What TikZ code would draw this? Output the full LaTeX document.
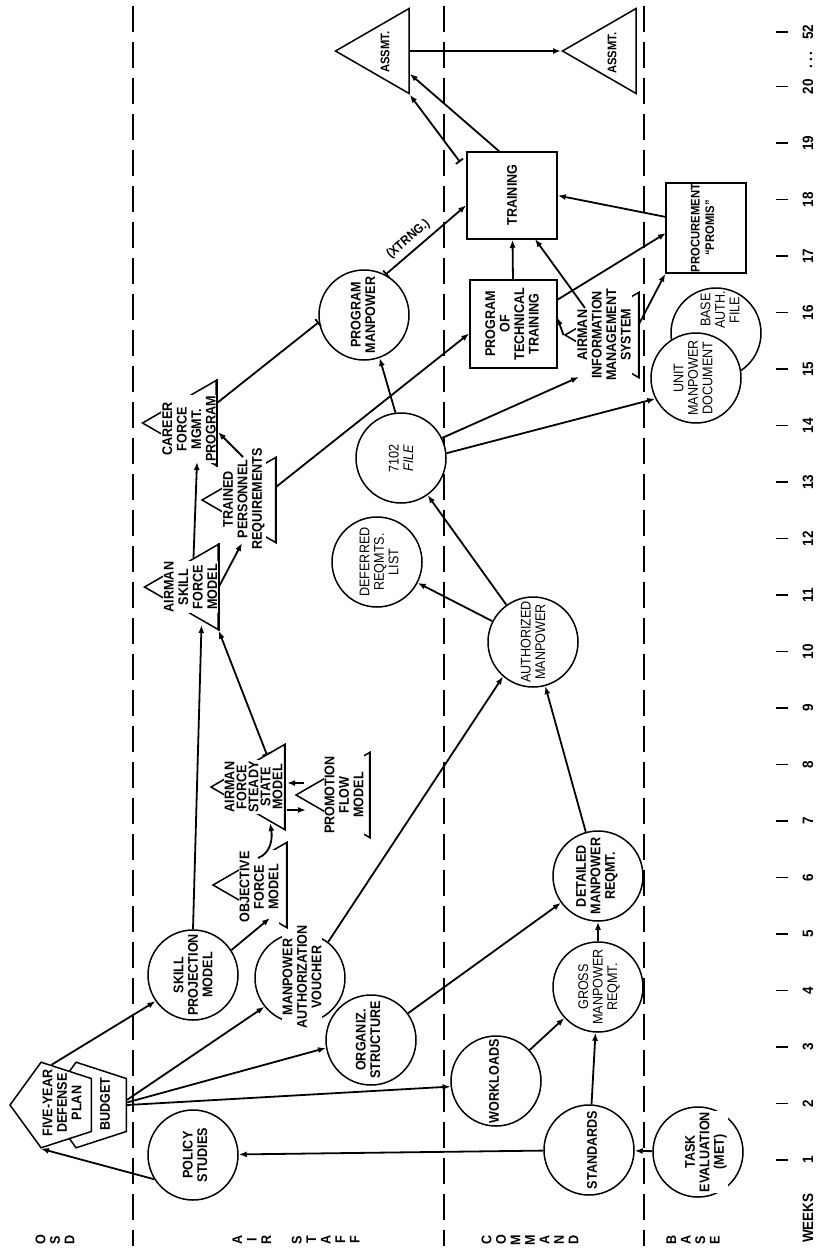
\documentclass[tikz,border=0pt]{standalone}
\usepackage{fontspec}
\newfontfamily\lblfont{Liberation Sans}[FakeStretch=0.9]
\usetikzlibrary{shapes.geometric, arrows.meta}

\begin{document}
\begin{tikzpicture}[x=1pt, y=-1pt,
        ring/.style={circle, draw, line width=1.5pt, minimum size=90pt, inner sep=0pt, fill=white},
        box/.style={rectangle, draw, line width=1.5pt, inner sep=0pt, fill=white},
        tri/.style={regular polygon, regular polygon sides=3, shape border rotate=90,
            draw, line width=1.5pt, minimum size=98pt, inner sep=0pt},
        pent/.style={regular polygon, regular polygon sides=5, shape border rotate=90,
            draw, line width=1.5pt, minimum size=90pt, inner sep=0pt, fill=white},
        lbl/.style={rotate=90, align=center, inner sep=1pt,
            font=\lblfont\bfseries\fontsize{14}{14.5}\selectfont},
        cut/.style={lbl, fill=white},
        lite/.style={font=\lblfont\fontsize{14}{14.5}\selectfont},
        mini/.style={font=\lblfont\bfseries\fontsize{12.5}{13}\selectfont},
        num/.style={rotate=90, inner sep=1pt, font=\lblfont\bfseries\fontsize{15}{16}\selectfont},
        flow/.style={arrows={-Latex[length=8pt, width=6pt]}, line width=1.8pt},
        bflow/.style={arrows={Bar[width=9pt]-Latex[length=8pt, width=6pt]}, line width=1.8pt},
        stop/.style={arrows={-Bar[width=9pt]}, line width=1.8pt},
        band/.style={line width=1.5pt, dash pattern=on 26pt off 10pt},
        rim/.style={line width=1.5pt}]
    \useasboundingbox (0,0) rectangle (816,1253);

    % band separators
    \foreach \bx in {133,444,644}
        \draw[band] (\bx,6) -- (\bx,1246);

    % band names and week scale
    \node[lbl] (osd) at (55,1240) {O\\S\\D};
    \node[lbl] (air) at (296,1240) {A\\I\\R\\[16pt]S\\T\\A\\F\\F};
    \node[lbl] (cmd) at (530,1240) {C\\O\\M\\M\\A\\N\\D};
    \node[lbl] (bas) at (693,1240) {B\\A\\S\\E};
    \node[num] (wks) at (808,1218) {WEEKS};
    \foreach \w in {1,...,20} {
        \pgfmathsetmacro{\wy}{1160-56.5*(\w-1)}
        \draw[rim] (776,\wy) -- (788,\wy);
        \node[num] (wk\w) at (808,\wy) {\w};
    }
    \draw[rim] (776,32) -- (788,32);
    \node[num] (wk52) at (808,32) {52};
    \node[num] (wkdots) at (811,60) {.\,.\,.};

    % OSD
    \node[pent] (bud) at (90,1105) {};
    \node[lbl] (bud-t) at (105,1104) {BUDGET};
    \node[pent] (fyp) at (55,1105) {};
    \node[lbl] (fyp-t) at (62,1103) {FIVE-YEAR\\DEFENSE\\PLAN};

    % AIR STAFF
    \node[ring] (spm) at (193,975) {};
    \node[lbl] (spm-t) at (193,975) {SKILL\\PROJECTION\\MODEL};
    \node[ring] (pol) at (193,1155) {};
    \node[lbl] (pol-t) at (195,1155) {POLICY\\STUDIES};
    \node[ring] (mav) at (300,978) {};
    \node[cut] (mav-t) at (302,977) {MANPOWER\\AUTHORIZATION\\VOUCHER};
    \node[ring] (org) at (371,1040) {};
    \node[lbl] (org-t) at (368,1040) {ORGANIZ.\\STRUCTURE};
    \node[ring] (drl) at (377,562) {};
    \node[lbl, lite] (drl-t) at (379,562) {DEFERRED\\REQMTS.\\LIST};
    \node[ring] (fil) at (401,458) {};
    \node[lbl, lite] (fil-t) at (401,458) {7102\\\textit{FILE}};
    \node[ring] (pgm) at (364,315) {};
    \node[lbl] (pgm-t) at (363,315) {PROGRAM\\MANPOWER};

    \node[tri] (as1) at (384.5,51) {};
    \node[lbl, mini] (as1-t) at (385,52) {ASSMT.};
    \node[tri] (asf) at (193.5,587) {};
    \node[cut] (asf-t) at (190.5,587) {AIRMAN\\SKILL\\FORCE\\MODEL};
    \node[tri] (cfm) at (191.5,423) {};
    \node[cut] (cfm-t) at (189,429) {CAREER\\FORCE\\MGMT.\\PROGRAM};
    \node[tri] (tpr) at (251,500) {};
    \node[cut] (tpr-t) at (244,499) {TRAINED\\PERSONNEL\\REQUIREMENTS};
    \node[tri] (ofm) at (262,885) {};
    \node[cut] (ofm-t) at (259,887) {OBJECTIVE\\FORCE\\MODEL};
    \node[tri] (ass) at (260,787) {};
    \node[cut, font=\lblfont\bfseries\fontsize{14}{12}\selectfont] (ass-t) at (253.5,787)
        {AIRMAN\\FORCE\\STEADY\\STATE\\MODEL};
    \node[tri] (pfm) at (345,795) {};
    \node[cut] (pfm-t) at (344,795) {PROMOTION\\FLOW\\MODEL};

    % COMMAND
    \node[ring] (wkl) at (496,1081) {};
    \node[cut] (wkl-t) at (494,1081) {WORKLOADS};
    \node[ring] (std) at (589,1150) {};
    \node[lbl] (std-t) at (592,1150) {STANDARDS};
    \node[ring] (gmr) at (598,987) {};
    \node[lbl, lite] (gmr-t) at (599,987) {GROSS\\MANPOWER\\REQMT.};
    \node[ring] (dmr) at (598,876) {};
    \node[lbl] (dmr-t) at (597,876) {DETAILED\\MANPOWER\\REQMT.};
    \node[ring] (aum) at (533,642) {};
    \node[cut, lite] (aum-t) at (533,642) {AUTHORIZED\\MANPOWER};
    \node[box, minimum width=90pt, minimum height=87pt] (trn) at (512,195.5) {};
    \node[lbl] (trn-t) at (512,195) {TRAINING};
    \node[box, minimum width=87pt, minimum height=88pt] (ptt) at (513.5,324) {};
    \node[lbl] (ptt-t) at (512,324) {PROGRAM\\OF\\TECHNICAL\\TRAINING};
    \node[tri] (aim) at (614,335) {};
    \node[cut] (aim-t) at (604,335) {AIRMAN\\INFORMATION\\MANAGEMENT\\SYSTEM};
    \node[tri] (as2) at (611.5,51) {};
    \node[lbl, mini] (as2-t) at (612,53) {ASSMT.};

    % BASE
    \node[ring] (baf) at (716,333) {};
    \node[lbl, lite] (baf-t) at (720,310) {BASE\\AUTH.\\FILE};
    \node[ring] (umd) at (696,378) {};
    \node[lbl, lite] (umd-t) at (693,378) {UNIT\\MANPOWER\\DOCUMENT};
    \node[box, minimum width=80pt, minimum height=90pt] (prc) at (706,228) {};
    \node[lbl, font=\lblfont\bfseries\fontsize{12.5}{14.5}\selectfont] (prc-t) at (702.5,228)
        {PROCUREMENT\\“PROMIS”};
    \node[ring] (tsk) at (698,1152) {};
    \node[cut] (tsk-t) at (706,1152) {TASK\\EVALUATION\\(MET)};

    % triangle bases stay whole
    \foreach \t in {asf,cfm,tpr,ofm,ass,pfm,aim}
        \draw[rim] (\t.corner 2) -- (\t.corner 3);

    % flows out of OSD
    \draw[flow] (pol.212) -- (fyp.corner 2);
    \draw[flow] (fyp.95) -- (spm.215);
    \draw[flow] (bud.8) -- (mav.219);
    \draw[flow] (bud.4) -- (org.190);
    \draw[flow] (bud.0) -- (wkl.187);

    % requirement chain
    \draw[flow] (std) -- (pol);
    \draw[flow] (tsk) -- (std);
    \draw[flow] (std) -- (gmr);
    \draw[flow] (wkl) -- (gmr);
    \draw[flow] (gmr) -- (dmr);
    \draw[flow] (org) -- (dmr);
    \draw[flow] (dmr) -- (aum);
    \draw[flow] (mav.52) -- (aum.229);
    \draw[flow] (aum) -- (drl);
    \draw[flow] (aum) -- (fil);
    \draw[flow] (fil.97) -- (pgm.290);
    \draw[flow] (fil.26) -- ([shift={(-35,42)}]aim.center);
    \draw[flow] (fil.6) -- (umd.207);

    % air staff models
    \draw[flow] (spm.90) -- ([shift={(8,38)}]asf.center);
    \draw[flow] (spm.33) -- ([shift={(8,33)}]ofm.center);
    \draw[flow] ([shift={(-4,-27)}]ofm.center) to[out=20, in=-80] ([shift={(10,36)}]ass.center);
    \draw[bflow] ([shift={(7,-32)}]ass.center) -- (asf.corner 2);
    \draw[flow] ([shift={(-41,-12)}]pfm.center) -- ([shift={(27,-4)}]ass.center);
    \draw[flow] ([shift={(27,23)}]ass.center) -- ([shift={(-39,15)}]pfm.center);
    \draw[flow] (asf.north) -- ([shift={(5.5,39)}]cfm.center);
    \draw[flow] (asf.east) -- ([shift={(-9,43)}]tpr.center);
    \draw[flow] ([shift={(-8,-43)}]tpr.center) -- ([shift={(26.5,9)}]cfm.center);
    \draw[stop] ([shift={(25.5,-20)}]cfm.center) -- (pgm.189);
    \draw[flow] ([shift={(25,-13)}]tpr.center) -- (ptt.192);

    % training and assessment
    \draw[bflow] (pgm.62) -- node[pos=0.38, above, sloped, inner sep=5pt,
        font=\lblfont\bfseries\fontsize{13}{13}\selectfont] (xtrng) {(XTRNG.)} (trn.192);
    \draw[flow] (ptt) -- (trn);
    \draw[flow] ([shift={(-29,-27)}]aim.center) -- ([shift={(23,43.5)}]trn.center);
    \draw[flow] (aim.corner 1) -- ([shift={(43.5,-7)}]ptt.center);
    \draw[flow] ([shift={(43.5,-24)}]ptt.center) -- ([shift={(-40,5)}]prc.center);
    \draw[flow] ([shift={(24.5,-10)}]aim.center) -- (prc.south west);
    \draw[flow] ([shift={(-40,-11)}]prc.center) -- (trn.east);
    \draw[flow] ([shift={(-12,-43.5)}]trn.center) -- (as1.318);
    \draw[bflow] ([shift={(-52,-33.5)}]trn.center) -- (as1.corner 2);
    \draw[flow] (as1.east) -- (as2.corner 1);
\end{tikzpicture}
\end{document}
